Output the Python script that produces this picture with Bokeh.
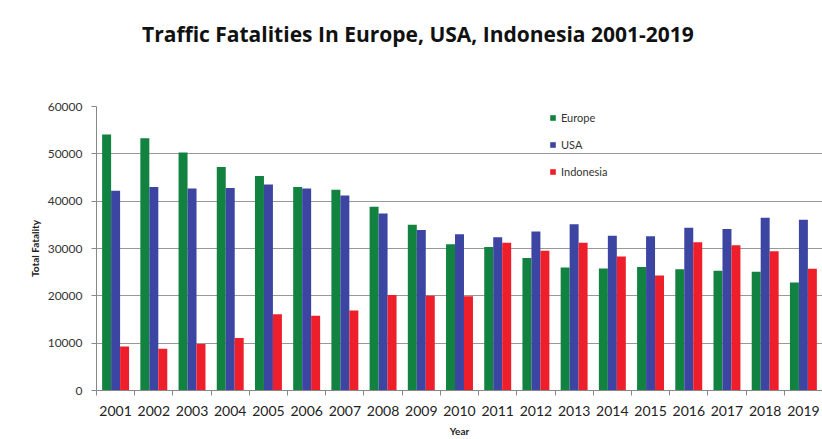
from bokeh.plotting import figure
from bokeh.layouts import column
from bokeh.models import ColumnDataSource, Range1d, FixedTicker, Legend, LegendItem, NumeralTickFormatter, Div
from bokeh.transform import dodge
from bokeh.embed import file_html
from bokeh.resources import INLINE

years = list(range(2001, 2020))
year_labels = [str(y) for y in years]
europe = [54100, 53300, 50300, 47200, 45300, 43000, 42400, 38800, 35000, 30900,
          30300, 28000, 26000, 25800, 26100, 25600, 25300, 25100, 22800]
usa = [42200, 43000, 42700, 42800, 43500, 42700, 41200, 37400, 33900, 33000,
       32400, 33600, 35100, 32700, 32600, 34400, 34100, 36500, 36100]
indonesia = [9300, 8800, 9800, 11100, 16100, 15800, 16900, 20200, 20000, 19900,
             31200, 29500, 31200, 28300, 24300, 31300, 30700, 29400, 25700]
y_ticks = [0, 10000, 20000, 30000, 40000, 50000, 60000]
title_text = "Traffic Fatalities In Europe, USA, Indonesia 2001-2019"

FONT = "Lato"
src = ColumnDataSource(dict(year=years, europe=europe, usa=usa, indonesia=indonesia))

title_div = Div(
    text=('<div style="padding-left:142px; padding-top:20px; font-family:\'Open Sans\'; '
          'font-size:21px; font-weight:bold; color:#111111; line-height:28px; '
          'white-space:nowrap;">' + title_text + '</div>'),
    width=822, height=96, margin=0)

p = figure(width=822, height=343, output_backend="svg", toolbar_location=None,
           x_range=Range1d(years[0] - 0.5, years[-1] + 0.5), y_range=Range1d(0, 60000),
           min_border_left=96, min_border_right=0, min_border_top=10, min_border_bottom=47,
           margin=0)
p.outline_line_color = None
p.background_fill_color = "white"
p.border_fill_color = "white"

w = 0.235
r1 = p.vbar(x=dodge("year", -w, range=p.x_range), top="europe", width=w, source=src,
            fill_color="#11823F", line_color=None)
r2 = p.vbar(x=dodge("year", 0, range=p.x_range), top="usa", width=w, source=src,
            fill_color="#3C46A2", line_color=None)
r3 = p.vbar(x=dodge("year", w, range=p.x_range), top="indonesia", width=w, source=src,
            fill_color="#EE1F2B", line_color=None)

# x axis
xa = p.xaxis[0]
xa.ticker = FixedTicker(ticks=years, minor_ticks=[y + 0.5 for y in [years[0] - 1] + years])
xa.major_label_overrides = {y: s for y, s in zip(years, year_labels)}
xa.major_tick_out = 0
xa.major_tick_in = 0
xa.minor_tick_out = 5
xa.minor_tick_in = 0
xa.minor_tick_line_color = "#888888"
xa.axis_line_color = "#888888"
xa.major_label_text_font = FONT
xa.major_label_text_font_size = "14px"
xa.major_label_text_color = "#222222"
xa.major_label_standoff = 10
xa.axis_label = "Year"
xa.axis_label_text_font = FONT
xa.axis_label_text_font_size = "10px"
xa.axis_label_text_font_style = "bold"
xa.axis_label_text_color = "#222222"
xa.axis_label_standoff = 6

# y axis
ya = p.yaxis[0]
ya.ticker = FixedTicker(ticks=y_ticks)
ya.formatter = NumeralTickFormatter(format="0")
ya.major_tick_out = 5
ya.major_tick_in = 0
ya.minor_tick_out = 0
ya.minor_tick_in = 0
ya.major_tick_line_color = "#888888"
ya.axis_line_color = "#888888"
ya.major_label_text_font = FONT
ya.major_label_text_font_size = "12px"
ya.major_label_text_color = "#333333"
ya.major_label_standoff = 9
ya.axis_label = "Total Fatality"
ya.axis_label_text_font = FONT
ya.axis_label_text_font_size = "10px"
ya.axis_label_text_font_style = "bold"
ya.axis_label_text_color = "#222222"
ya.axis_label_standoff = 4

p.xgrid.grid_line_color = None
p.ygrid.grid_line_color = "#999999"
p.ygrid.grid_line_width = 1

legend = Legend(items=[LegendItem(label="Europe", renderers=[r1]),
                       LegendItem(label="USA", renderers=[r2]),
                       LegendItem(label="Indonesia", renderers=[r3])],
                location=(453, 212), orientation="vertical",
                glyph_width=7, glyph_height=7, label_height=12, label_standoff=5,
                spacing=14, padding=0, margin=0,
                label_text_font=FONT, label_text_font_size="11px", label_text_color="#333333",
                background_fill_alpha=0, border_line_alpha=0)
p.add_layout(legend, "center")

layout = column(title_div, p, spacing=0, margin=0)
open("out.html", "w").write(file_html(layout, INLINE))
